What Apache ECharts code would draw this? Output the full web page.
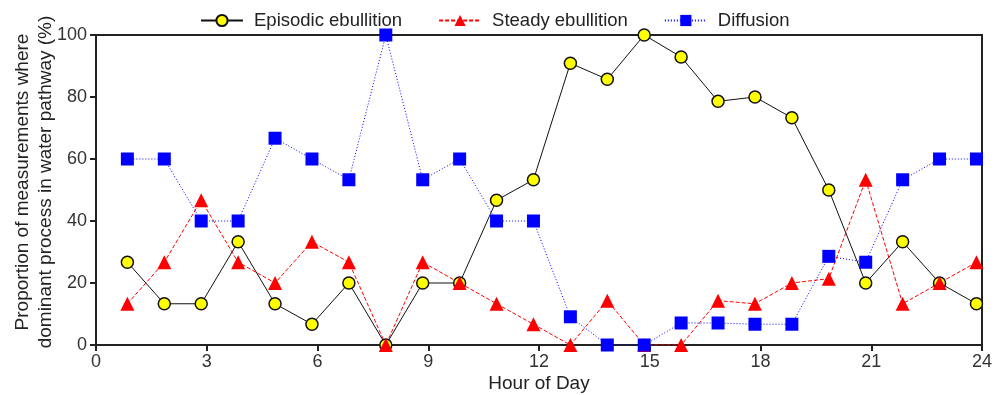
<!DOCTYPE html>
<html>
<head>
    <meta charset="utf-8">
    <script src="https://cdn.jsdelivr.net/npm/echarts@6/dist/echarts.min.js"></script>
    <style>
        html, body { margin: 0; padding: 0; background: #fff; }
    </style>
</head>
<body>
<div id="container" style="width: 1000px; height: 395px"></div>
<script>
    // hour of day where each measurement sits
    let hours = [0.85, 1.85, 2.85, 3.85, 4.85, 5.85, 6.85, 7.85, 8.85, 9.85, 10.85, 11.85,
        12.85, 13.85, 14.85, 15.85, 16.85, 17.85, 18.85, 19.85, 20.85, 21.85, 22.85, 23.85];
    let episodic = [26.7, 13.3, 13.3, 33.3, 13.3, 6.7, 20, 0, 20, 20, 46.7, 53.3,
        90.9, 85.7, 100, 92.9, 78.6, 80, 73.3, 50, 20, 33.3, 20, 13.3];
    let steady = [13.3, 26.7, 46.7, 26.7, 20, 33.3, 26.7, 0, 26.7, 20, 13.3, 6.7,
        0, 14.3, 0, 0, 14.3, 13.3, 20, 21.4, 53.3, 13.3, 20, 26.7];
    let diffusion = [60, 60, 40, 40, 66.7, 60, 53.3, 100, 53.3, 60, 40, 40,
        9.1, 0, 0, 7.1, 7.1, 6.7, 6.7, 28.6, 26.7, 53.3, 60, 60];
    let xTicks = [0, 3, 6, 9, 12, 15, 18, 21, 24];
    let yTicks = [0, 20, 40, 60, 80, 100];

    function pairs(vals) {
        return vals.map(function (v, i) { return [hours[i], v]; });
    }

    let dom = document.getElementById("container");
    let myChart = echarts.init(dom);
    let font = 'Liberation Sans, Arial, sans-serif';
    let option = {
        animation: false,
        textStyle: { fontFamily: font },
        grid: {
            left: 96, right: 18, top: 35, bottom: 50,
            outerBoundsMode: 'none',
            containLabel: false,
            show: true, borderColor: '#222', borderWidth: 2
        },
        legend: {
            top: 6,
            left: 195,
            itemWidth: 42,
            itemHeight: 14,
            itemGap: 36,
            textStyle: { fontSize: 18.5, color: '#222', fontFamily: font, padding: [0, 0, 0, 6] },
            data: ['Episodic ebullition', 'Steady ebullition', 'Diffusion']
        },
        xAxis: {
            type: 'value',
            min: xTicks[0], max: xTicks[xTicks.length - 1], interval: 3,
            name: 'Hour of Day',
            nameLocation: 'middle',
            nameGap: 29,
            nameMoveOverlap: false,
            nameTextStyle: { fontSize: 19, color: '#222', fontFamily: font },
            axisLine: { show: true, lineStyle: { color: '#222', width: 2 } },
            axisTick: { show: true, length: 6, lineStyle: { color: '#222', width: 2 } },
            axisLabel: { fontSize: 18, color: '#333', margin: 8, fontFamily: font },
            splitLine: { show: false }
        },
        yAxis: {
            type: 'value',
            min: yTicks[0], max: yTicks[yTicks.length - 1], interval: 20,
            name: 'Proportion of measurements where\ndominant process in water pathway (%)',
            nameLocation: 'middle',
            nameGap: 39,
            nameMoveOverlap: false,
            nameTextStyle: {
                fontSize: 19, color: '#222', lineHeight: 23, fontFamily: font,
                padding: [0, 0, 0, 16]
            },
            axisLine: { show: true, lineStyle: { color: '#222', width: 2 } },
            axisTick: { show: true, length: 6, lineStyle: { color: '#222', width: 2 } },
            axisLabel: { fontSize: 18, color: '#333', margin: 9, fontFamily: font },
            splitLine: { show: false }
        },
        series: [{
            name: 'Episodic ebullition',
            type: 'line',
            data: pairs(episodic),
            symbol: 'circle',
            symbolSize: 12,
            lineStyle: { color: '#111', width: 1, type: 'solid' },
            itemStyle: { color: '#ffff00', borderColor: '#111', borderWidth: 1.5 }
        }, {
            name: 'Steady ebullition',
            type: 'line',
            data: pairs(steady),
            symbol: 'triangle',
            symbolSize: 14,
            lineStyle: { color: '#ff0000', width: 1, type: [4, 2] },
            itemStyle: { color: '#ff0000', borderWidth: 0 }
        }, {
            name: 'Diffusion',
            type: 'line',
            data: pairs(diffusion),
            symbol: 'rect',
            symbolSize: 13,
            lineStyle: { color: '#0000ff', width: 1, type: [1, 2] },
            itemStyle: { color: '#0000ff', borderWidth: 0 }
        }]
    };
    myChart.setOption(option);
</script>
</body>
</html>
